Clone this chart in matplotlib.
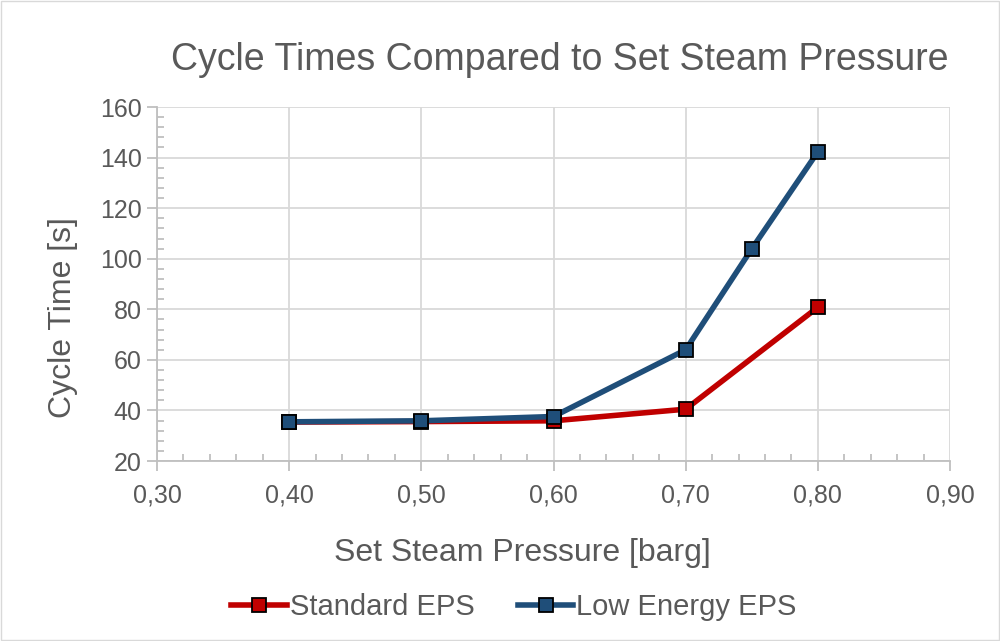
import matplotlib.pyplot as plt
from matplotlib.ticker import MultipleLocator, FuncFormatter
from matplotlib.patches import Rectangle

plt.rcParams['font.family'] = ['Liberation Sans', 'DejaVu Sans']

# data
pressure_std = [0.40, 0.50, 0.60, 0.70, 0.80]
cycle_std = [35.4, 35.6, 35.9, 40.5, 80.8]
pressure_low = [0.40, 0.50, 0.60, 0.70, 0.75, 0.80]
cycle_low = [35.5, 35.9, 37.6, 64.0, 103.9, 142.3]

txt = '#595959'
grid = '#d9d9d9'

fig = plt.figure(figsize=(10, 6.41), dpi=100)
fig.patches.append(Rectangle((0.001, 0.001), 0.998, 0.998, transform=fig.transFigure,
                             fill=False, edgecolor=grid, linewidth=1))
ax = fig.add_axes([0.157, 0.2808, 0.793, 0.5522])

ax.plot(pressure_std, cycle_std, color='#C00000', lw=4, marker='s', ms=10.5,
        mfc='#C00000', mec='black', mew=1.3, label='Standard EPS', zorder=3)
ax.plot(pressure_low, cycle_low, color='#1F4E79', lw=4, marker='s', ms=10.5,
        mfc='#1F4E79', mec='black', mew=1.3, label='Low Energy EPS', zorder=4)

ax.set_xlim(0.30, 0.90)
ax.set_ylim(20, 160)
ax.xaxis.set_major_locator(MultipleLocator(0.1))
ax.xaxis.set_minor_locator(MultipleLocator(0.02))
ax.yaxis.set_major_locator(MultipleLocator(20))
ax.yaxis.set_minor_locator(MultipleLocator(4))
ax.xaxis.set_major_formatter(FuncFormatter(lambda v, p: ('%.2f' % v).replace('.', ',')))

ax.grid(True, which='major', color=grid, lw=1.3)
ax.set_axisbelow(True)
for s in ['top', 'right']:
    ax.spines[s].set_visible(False)
for s in ['left', 'bottom']:
    ax.spines[s].set_color('#bfbfbf')
    ax.spines[s].set_linewidth(1.3)
ax.tick_params(which='major', direction='out', length=7, width=1.3, color='#bfbfbf',
               labelsize=18, labelcolor=txt)
ax.tick_params(axis='x', which='major', pad=9)
ax.tick_params(axis='y', which='major', pad=4)
ax.tick_params(which='minor', direction='in', length=5, width=1.3, color='#bfbfbf')

fig.text(0.56, 0.906, 'Cycle Times Compared to Set Steam Pressure', ha='center', va='center',
         fontsize=27, color=txt)
fig.text(0.522, 0.137, 'Set Steam Pressure [barg]', ha='center', va='center',
         fontsize=23, color=txt)
fig.text(0.063, 0.504, 'Cycle Time [s]', ha='center', va='center', rotation=90,
         fontsize=23, color=txt)

leg = fig.legend(loc='center', bbox_to_anchor=(0.514, 0.053), ncol=2, frameon=False,
                 fontsize=21, handlelength=1.9, handletextpad=0.1, columnspacing=1.5)
for t in leg.get_texts():
    t.set_color(txt)

fig.savefig('out.png', dpi=100)
